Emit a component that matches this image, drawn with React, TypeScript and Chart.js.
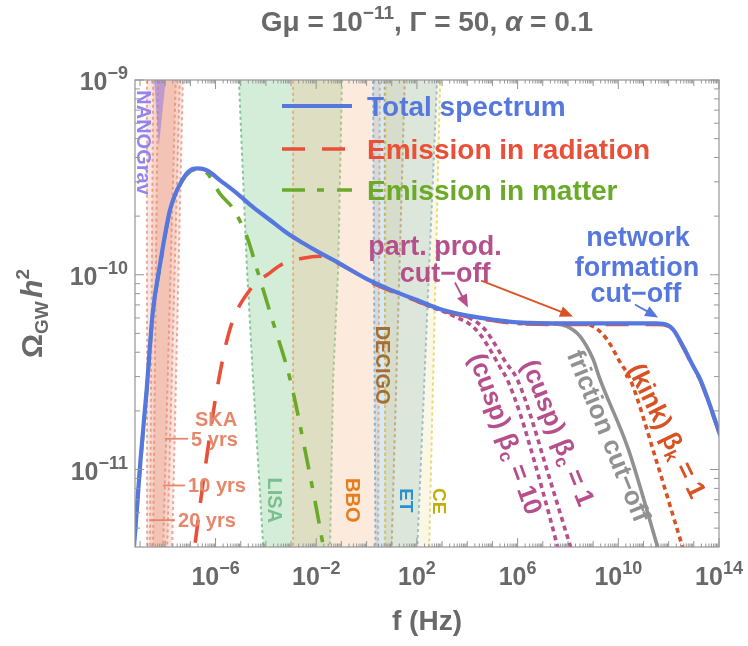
import React, { useEffect, useRef } from 'react';
import { Chart, registerables } from 'chart.js';

Chart.register(...registerables);

const FONT = '"Liberation Sans", Arial, Helvetica, sans-serif';
const W = 748;
const H = 646;

// ---------- axes ----------
const xMinExp = -9.2;
const xMaxExp = 14;
const yMin = 4e-12;
const yMax = 1e-9;
const xLabelExps = [-6, -2, 2, 6, 10, 14];
const xDecadeExps = [-9, -8, -7, -6, -5, -4, -3, -2, -1, 0, 1, 2, 3, 4, 5, 6, 7, 8, 9, 10, 11, 12, 13, 14];
const yLabelExps = [-11, -10, -9];
const yDecadeExps = [-12, -11, -10, -9];
const minorMultipliers = [2, 3, 4, 5, 6, 7, 8, 9];

// ---------- curves (log10 f [Hz], log10 Omega h^2) ----------
const totalLogF = [-9.3, -9.2, -8.98, -8.735, -8.5, -8.21, -7.81, -7.33, -7.01, -6.7, -6.34, -5.82, -5.15, -4.51, -3.84, -3.16, -2.53, -1.85, -1.17, -0.02, 1.0, 2.0, 3.0, 4.0, 5.0, 6.0, 8.0, 10.0, 11.5, 11.78, 12.17, 12.57, 12.97, 13.25, 13.96, 14.2];
const totalLogOmega = [-11.49, -11.33, -10.95, -10.587, -10.2, -9.95, -9.668, -9.515, -9.464, -9.454, -9.464, -9.515, -9.582, -9.653, -9.719, -9.786, -9.837, -9.888, -9.935, -10.02, -10.08, -10.13, -10.18, -10.21, -10.23, -10.245, -10.25, -10.25, -10.25, -10.252, -10.28, -10.367, -10.469, -10.536, -10.79, -10.88];

const radLogF = [-7.0, -6.82, -6.4, -5.94, -5.43, -4.63, -3.84, -3.32, -2.53, -1.85, -1.17, -0.5, -0.02, 1.0, 2.0, 3.0, 4.0, 5.0, 6.0, 8.0, 10.0, 11.5, 11.78, 12.17, 12.57, 12.97, 13.25, 13.96, 14.2];
const radLogOmega = [-11.58, -11.388, -10.98, -10.587, -10.28, -10.077, -9.99, -9.944, -9.915, -9.905, -9.94, -9.985, -10.025, -10.085, -10.135, -10.185, -10.215, -10.235, -10.25, -10.255, -10.255, -10.255, -10.257, -10.285, -10.372, -10.474, -10.541, -10.795, -10.885];

const matLogF = [-9.3, -9.2, -8.98, -8.735, -8.5, -8.21, -7.81, -7.33, -7.01, -6.7, -6.34, -5.82, -5.31, -4.75, -4.35, -3.7, -3.04, -2.4, -1.73, -1.4];
const matLogOmega = [-11.5, -11.34, -10.96, -10.6, -10.21, -9.96, -9.675, -9.52, -9.47, -9.46, -9.478, -9.585, -9.66, -9.806, -9.974, -10.25, -10.536, -10.93, -11.388, -11.65];

const cusp10LogF = [2.0, 3.0, 3.51, 4.11, 4.51, 4.9, 5.3, 5.58, 6.1, 6.69, 7.29, 7.57, 7.8];
const cusp10LogOmega = [-10.135, -10.185, -10.215, -10.255, -10.306, -10.383, -10.474, -10.536, -10.714, -10.969, -11.25, -11.388, -11.5];

const cusp1LogF = [2.0, 3.0, 4.0, 4.7, 5.1, 5.5, 5.98, 6.49, 7.09, 7.69, 8.08, 8.3];
const cusp1LogOmega = [-10.135, -10.185, -10.215, -10.281, -10.357, -10.444, -10.536, -10.714, -10.969, -11.224, -11.388, -11.48];

const fricLogF = [6.0, 7.5, 7.96, 8.48, 9.0, 9.27, 10.39, 11.54, 11.8];
const fricLogOmega = [-10.25, -10.252, -10.265, -10.316, -10.434, -10.536, -10.893, -11.388, -11.5];

const kinkLogF = [6.0, 8.5, 9.0, 9.55, 10.07, 10.47, 11.5, 12.53, 12.8];
const kinkLogOmega = [-10.25, -10.253, -10.265, -10.332, -10.449, -10.536, -10.95, -11.388, -11.5];

// ---------- experimental sensitivity regions (polygons) ----------
const lisaLogF = [-5.12, -5.07, -4.75, -4.51, -4.11, -4.02, -1.48, -1.45, -1.33, -1.13, -0.98, -0.95];
const lisaLogOmega = [-8.85, -9.01, -9.974, -10.536, -11.388, -11.6, -11.6, -11.388, -10.536, -9.974, -9.01, -8.85];
const bboLogF = [-2.92, -2.92, 0.45, 0.53];
const bboLogOmega = [-8.85, -11.6, -11.6, -8.85];
const decigoLogF = [0.72, 0.74, 0.95, 1.55];
const decigoLogOmega = [-8.85, -11.6, -11.6, -8.85];
const etLogF = [0.25, 0.36, 1.95, 2.85];
const etLogOmega = [-8.85, -11.6, -11.6, -8.85];
const ceLogF = [0.78, 0.72, 2.45, 2.95];
const ceLogOmega = [-8.85, -11.6, -11.6, -8.85];
const ska20LogF = [-8.73, -8.72, -7.76, -7.27];
const ska10LogF = [-8.47, -8.62, -7.96, -7.39];
const ska5LogF = [-8.28, -8.5, -8.12, -7.55];
const skaLogOmega = [-8.85, -11.6, -11.6, -8.85];
const nanoLogF = [-8.5, -8.25, -7.9];
const nanoLogOmega = [-8.9, -9.337, -8.9];

// ---------- colours ----------
const BLUE = 'rgb(86,120,222)';
const RED = 'rgb(234,80,56)';
const GREEN = 'rgb(106,170,40)';
const PINK = 'rgb(182,80,140)';
const GRAY = 'rgb(145,145,145)';
const KINK = 'rgb(216,82,36)';
const TXT = 'rgb(105,105,105)';
const FRAME = 'rgb(150,150,150)';

const mk = (lf: number[], lo: number[]) => lf.map((v, i) => ({ x: Math.pow(10, v), y: Math.pow(10, lo[i]) }));

type Run = { t: string; s: number; it?: boolean; dy?: number };
const fontOf = (r: Run) => `${r.it ? 'italic ' : ''}bold ${r.s}px ${FONT}`;

function drawRich(ctx: CanvasRenderingContext2D, runs: Run[], x: number, y: number, align: string, color: string, rot = 0, shift = 0) {
  ctx.save();
  ctx.translate(x, y);
  ctx.rotate(rot);
  ctx.fillStyle = color;
  ctx.textBaseline = 'alphabetic';
  ctx.textAlign = 'left';
  let w = 0;
  for (const r of runs) { ctx.font = fontOf(r); w += ctx.measureText(r.t).width; }
  let cx = align === 'left' ? 0 : align === 'center' ? -w / 2 : -w;
  for (const r of runs) {
    ctx.font = fontOf(r);
    ctx.fillText(r.t, cx, (r.dy || 0) + shift);
    cx += ctx.measureText(r.t).width;
  }
  ctx.restore();
}

function arrow(ctx: CanvasRenderingContext2D, x1: number, y1: number, x2: number, y2: number, color: string) {
  const a = Math.atan2(y2 - y1, x2 - x1);
  const hl = 13, hw = 5.5;
  ctx.save();
  ctx.strokeStyle = color; ctx.fillStyle = color; ctx.lineWidth = 1.8;
  ctx.beginPath(); ctx.moveTo(x1, y1); ctx.lineTo(x2 - hl * 0.8 * Math.cos(a), y2 - hl * 0.8 * Math.sin(a)); ctx.stroke();
  ctx.beginPath();
  ctx.moveTo(x2, y2);
  ctx.lineTo(x2 - hl * Math.cos(a) + hw * Math.sin(a), y2 - hl * Math.sin(a) - hw * Math.cos(a));
  ctx.lineTo(x2 - hl * Math.cos(a) - hw * Math.sin(a), y2 - hl * Math.sin(a) + hw * Math.cos(a));
  ctx.closePath(); ctx.fill();
  ctx.restore();
}

const supExp = (e: number) => (e < 0 ? '\u2212' + Math.abs(e) : String(e));

const decorPlugin = {
  id: 'decor',
  afterDatasetsDraw(chart: any) {
    const ctx: CanvasRenderingContext2D = chart.ctx;
    const { left, right, top, bottom } = chart.chartArea;
    const xs = chart.scales.x, ys = chart.scales.y;
    const X = (e: number) => xs.getPixelForValue(Math.pow(10, e));
    const Y = (e: number) => ys.getPixelForValue(Math.pow(10, e));
    const R90 = Math.PI / 2;
    const deg = (d: number) => (d * Math.PI) / 180;

    // --- region labels (vertical) ---
    drawRich(ctx, [{ t: 'NANOGrav', s: 20 }], X(-8.84), Y(-9.321), 'center', 'rgb(150,132,238)', R90, 7);
    drawRich(ctx, [{ t: 'LISA', s: 20 }], X(-3.64), Y(-11.158), 'center', 'rgb(122,192,142)', R90, 7);
    drawRich(ctx, [{ t: 'BBO', s: 20 }], X(-0.54), Y(-11.158), 'center', 'rgb(230,125,30)', R90, 7);
    drawRich(ctx, [{ t: 'DECIGO', s: 20 }], X(0.65), Y(-10.464), 'center', 'rgb(165,110,50)', R90, 7);
    drawRich(ctx, [{ t: 'ET', s: 19 }], X(1.61), Y(-11.158), 'center', 'rgb(40,145,210)', R90, 7);
    drawRich(ctx, [{ t: 'CE', s: 19 }], X(2.92), Y(-11.163), 'center', 'rgb(195,175,10)', R90, 7);

    // --- SKA labels ---
    const SKA = 'rgb(230,135,108)';
    drawRich(ctx, [{ t: 'SKA', s: 20 }], X(-5.98), Y(-10.74), 'center', SKA, 0, 7);
    const skaLines: [number, number, number, string][] = [
      [-8.01, -7.09, -10.842, '5 yrs'],
      [-8.09, -7.21, -11.082, '10 yrs'],
      [-8.6, -7.61, -11.26, '20 yrs'],
    ];
    for (const [a, b, o, t] of skaLines) {
      ctx.save(); ctx.strokeStyle = SKA; ctx.lineWidth = 1.8;
      ctx.beginPath(); ctx.moveTo(X(a), Y(o)); ctx.lineTo(X(b), Y(o)); ctx.stroke(); ctx.restore();
      drawRich(ctx, [{ t, s: 20 }], X(b) + 3, Y(o), 'left', SKA, 0, 7);
    }

    // --- annotations ---
    drawRich(ctx, [{ t: 'part. prod.', s: 27 }], X(2.72), Y(-9.852), 'center', PINK, 0, 9);
    drawRich(ctx, [{ t: 'cut\u2212off', s: 27 }], X(3.12), Y(-9.99), 'center', PINK, 0, 9);
    arrow(ctx, X(3.51), Y(-10.04), X(4.03), Y(-10.168), PINK);
    arrow(ctx, X(4.55), Y(-10.03), X(8.2), Y(-10.214), KINK);
    drawRich(ctx, [{ t: 'network', s: 27 }], X(10.78), Y(-9.806), 'center', BLUE, 0, 9);
    drawRich(ctx, [{ t: 'formation', s: 27 }], X(10.74), Y(-9.959), 'center', BLUE, 0, 9);
    drawRich(ctx, [{ t: 'cut\u2212off', s: 27 }], X(10.7), Y(-10.092), 'center', BLUE, 0, 9);
    arrow(ctx, X(10.66), Y(-10.153), X(11.58), Y(-10.219), BLUE);

    drawRich(ctx, [{ t: '(cusp) \u03b2', s: 26 }, { t: 'c', s: 18, dy: 5 }, { t: ' = 10', s: 26 }], X(5.54), Y(-10.816), 'center', PINK, deg(70), 9);
    drawRich(ctx, [{ t: '(cusp) \u03b2', s: 26 }, { t: 'c', s: 18, dy: 5 }, { t: ' = 1', s: 26 }], X(7.62), Y(-10.81), 'center', PINK, deg(68), 9);
    drawRich(ctx, [{ t: 'friction cut\u2212off', s: 26 }], X(9.63), Y(-10.827), 'center', GRAY, deg(68), 9);
    drawRich(ctx, [{ t: '(kink) \u03b2', s: 26 }, { t: 'k', s: 18, dy: 5 }, { t: ' = 1', s: 26 }], X(11.95), Y(-10.8), 'center', KINK, deg(64), 9);

    // --- legend ---
    const leg: [string, string, number[], number, number][] = [
      ['Total spectrum', BLUE, [], 4.2, 106],
      ['Emission in radiation', RED, [23, 17], 3.6, 149],
      ['Emission in matter', GREEN, [23, 12, 7, 13], 3.6, 190],
    ];
    for (const [t, c, d, lw, yy] of leg) {
      ctx.save(); ctx.strokeStyle = c; ctx.lineWidth = lw; ctx.setLineDash(d); ctx.lineCap = 'butt';
      ctx.beginPath(); ctx.moveTo(282, yy); ctx.lineTo(352, yy); ctx.stroke(); ctx.restore();
      drawRich(ctx, [{ t, s: 28 }], 367, yy, 'left', c, 0, 10);
    }

    // --- frame and ticks ---
    ctx.save();
    ctx.strokeStyle = FRAME; ctx.lineWidth = 1.2;
    ctx.strokeRect(left, top, right - left, bottom - top);
    ctx.lineWidth = 1;
    ctx.beginPath();
    const xt = (px: number, len: number) => { ctx.moveTo(px, bottom); ctx.lineTo(px, bottom - len); ctx.moveTo(px, top); ctx.lineTo(px, top + len); };
    const yt = (py: number, len: number) => { ctx.moveTo(left, py); ctx.lineTo(left + len, py); ctx.moveTo(right, py); ctx.lineTo(right - len, py); };
    for (const d of xDecadeExps) {
      const p = X(d);
      if (p >= left - 0.5 && p <= right + 0.5) xt(p, xLabelExps.includes(d) ? 9 : 6);
      for (const m of minorMultipliers) {
        const e = d + Math.log10(m);
        if (e > xMinExp && e < xMaxExp) xt(X(e), 3.5);
      }
    }
    for (const d of yDecadeExps) {
      const p = Y(d);
      if (p >= top - 0.5 && p <= bottom + 0.5) yt(p, 9);
      for (const m of minorMultipliers) {
        const v = m * Math.pow(10, d);
        if (v > yMin && v < yMax) yt(ys.getPixelForValue(v), 5);
      }
    }
    ctx.stroke();
    ctx.restore();

    // --- tick labels ---
    for (const e of xLabelExps) {
      drawRich(ctx, [{ t: '10', s: 25 }, { t: supExp(e), s: 18, dy: -11 }], X(e), bottom + 38, 'center', TXT);
    }
    for (const e of yLabelExps) {
      drawRich(ctx, [{ t: '10', s: 25 }, { t: supExp(e), s: 18, dy: -11 }], left - 7, Y(e) + 10, 'right', TXT);
    }

    // --- titles ---
    drawRich(ctx, [{ t: 'G\u03bc = 10', s: 28 }, { t: '\u221211', s: 19, dy: -12 }, { t: ', \u0393 = 50, ', s: 28 }, { t: '\u03b1', s: 28, it: true }, { t: ' = 0.1', s: 28 }], (left + right) / 2, 31, 'center', TXT);
    drawRich(ctx, [{ t: 'f (Hz)', s: 28 }], (left + right) / 2, 630, 'center', TXT);
    drawRich(ctx, [{ t: '\u03a9', s: 30 }, { t: 'GW', s: 19, dy: 6 }, { t: ' ', s: 12 }, { t: 'h', s: 30, it: true }, { t: '2', s: 19, dy: -13 }], 31, (top + bottom) / 2, 'center', TXT, -Math.PI / 2, 11);
  },
};

const curve = (label: string, lf: number[], lo: number[], color: string, width: number, dash: number[]) => ({
  label,
  data: mk(lf, lo),
  showLine: true,
  borderColor: color,
  backgroundColor: color,
  borderWidth: width,
  borderDash: dash,
  borderCapStyle: 'butt',
  pointRadius: 0,
  fill: false,
  cubicInterpolationMode: 'monotone',
});

const band = (label: string, lf: number[], lo: number[], fillC: string, lineC: string) => ({
  label,
  data: mk(lf, lo),
  showLine: true,
  borderColor: lineC,
  backgroundColor: fillC,
  borderWidth: lineC === 'transparent' ? 0 : 2,
  borderDash: [3, 3],
  pointRadius: 0,
  fill: 'shape',
  tension: 0,
  clip: 0,
});

export default function App() {
  const ref = useRef<HTMLCanvasElement | null>(null);
  useEffect(() => {
    if (!ref.current) return;
    const chart = new Chart(ref.current, {
      type: 'scatter',
      data: {
        datasets: [
          curve('Total spectrum', totalLogF, totalLogOmega, BLUE, 4.2, []),
          curve('Emission in radiation', radLogF, radLogOmega, RED, 3.6, [23, 17]),
          curve('Emission in matter', matLogF, matLogOmega, GREEN, 3.6, [23, 12, 7, 13]),
          curve('(kink) beta_k = 1', kinkLogF, kinkLogOmega, KINK, 3.6, [5, 4]),
          curve('friction cut-off', fricLogF, fricLogOmega, GRAY, 3.6, []),
          curve('(cusp) beta_c = 1', cusp1LogF, cusp1LogOmega, PINK, 3.6, [5, 4]),
          curve('(cusp) beta_c = 10', cusp10LogF, cusp10LogOmega, PINK, 3.6, [5, 4]),
          band('NANOGrav', nanoLogF, nanoLogOmega, 'rgba(150,120,225,0.55)', 'transparent'),
          band('SKA 5 yrs', ska5LogF, skaLogOmega, 'rgba(232,140,115,0.22)', 'rgba(225,120,95,0.6)'),
          band('SKA 10 yrs', ska10LogF, skaLogOmega, 'rgba(232,140,115,0.22)', 'rgba(225,120,95,0.6)'),
          band('SKA 20 yrs', ska20LogF, skaLogOmega, 'rgba(232,140,115,0.22)', 'rgba(225,120,95,0.6)'),
          band('CE', ceLogF, ceLogOmega, 'rgba(230,220,130,0.22)', 'rgba(225,210,90,0.8)'),
          band('ET', etLogF, etLogOmega, 'rgba(120,175,210,0.28)', 'rgba(110,170,220,0.8)'),
          band('DECIGO', decigoLogF, decigoLogOmega, 'rgba(190,150,90,0.15)', 'rgba(190,130,70,0.8)'),
          band('BBO', bboLogF, bboLogOmega, 'rgba(245,190,150,0.33)', 'rgba(240,160,100,0.8)'),
          band('LISA', lisaLogF, lisaLogOmega, 'rgba(120,200,140,0.33)', 'rgba(120,195,140,0.9)'),
        ] as any,
      },
      options: {
        responsive: false,
        animation: false,
        events: [],
        layout: { padding: { top: 80, right: 29, left: 0, bottom: 0 } },
        plugins: { legend: { display: false }, tooltip: { enabled: false }, title: { display: false } },
        scales: {
          x: {
            type: 'logarithmic',
            min: Math.pow(10, xMinExp),
            max: Math.pow(10, xMaxExp),
            ticks: { display: false },
            grid: { display: false },
            border: { display: false },
            afterFit: (s: any) => { s.height = H - 547; },
          },
          y: {
            type: 'logarithmic',
            min: yMin,
            max: yMax,
            ticks: { display: false },
            grid: { display: false },
            border: { display: false },
            afterFit: (s: any) => { s.width = 135; },
          },
        },
      } as any,
      plugins: [decorPlugin],
    });
    return () => chart.destroy();
  }, []);
  return (
    <div style={{ position: 'absolute', left: 0, top: 0, width: W, height: H, background: '#fff' }}>
      <canvas ref={ref} width={W} height={H} />
    </div>
  );
}
